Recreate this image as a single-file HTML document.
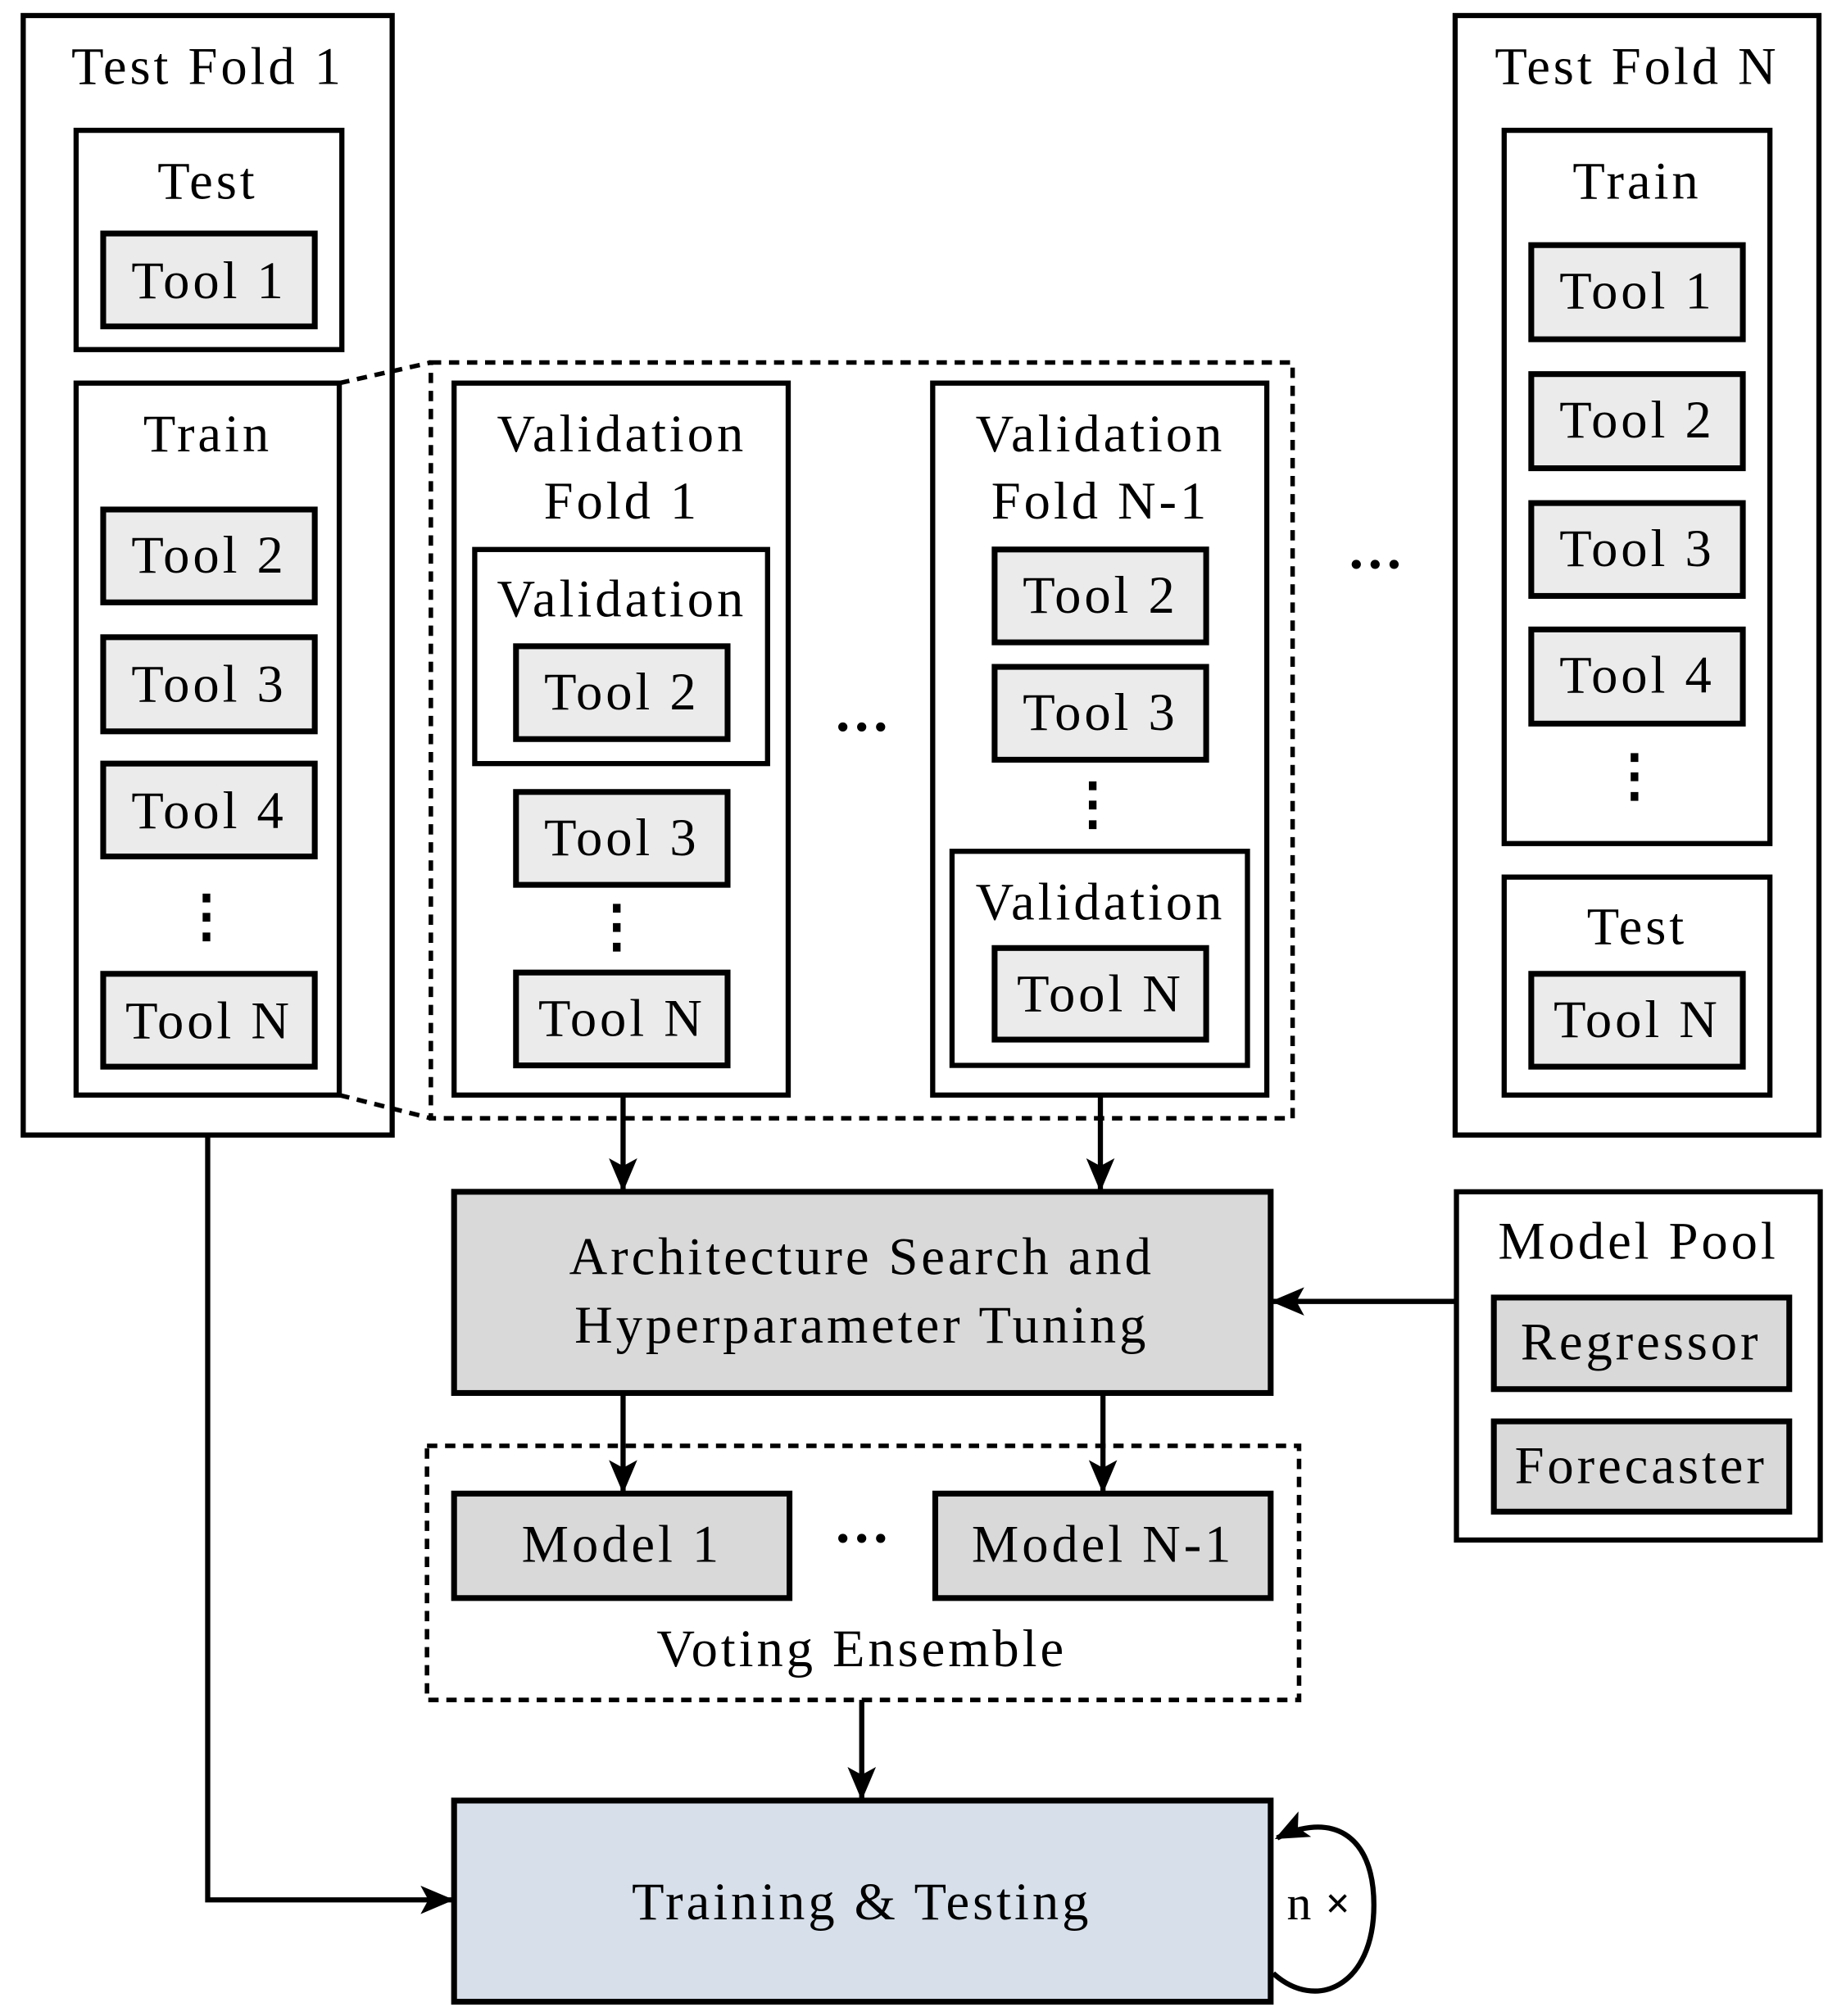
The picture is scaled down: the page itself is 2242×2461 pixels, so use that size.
<!DOCTYPE html>
<html><head><meta charset="utf-8">
<style>
html,body{margin:0;padding:0;background:#fff;}
svg{display:block;}
text{font-family:"Liberation Serif",serif;font-size:41px;letter-spacing:2.5px;fill:#000;text-anchor:middle;}
.b{fill:none;stroke:#000;stroke-width:4;}
.t{fill:#ebebeb;stroke:#000;stroke-width:4.5;}
.g{fill:#d9d9d9;stroke:#000;stroke-width:4.5;}
.d{fill:none;stroke:#000;stroke-width:3.5;stroke-dasharray:8,6;}
.l{fill:none;stroke:#000;stroke-width:4;}
.dots{font-size:44px;font-weight:bold;letter-spacing:0;}
</style></head><body>
<svg width="2242" height="2461" viewBox="0 0 1424 1563" xmlns="http://www.w3.org/2000/svg">
<defs>
<marker id="A" markerWidth="26" markerHeight="26" refX="24" refY="13" orient="auto" markerUnits="userSpaceOnUse"><path d="M0,2 L26,13 L0,24 L6,13 z" fill="#000"/></marker></defs>

<!-- Test Fold 1 -->
<rect class="b" x="18" y="12" width="286" height="868"/>
<text x="161" y="65">Test Fold 1</text>
<rect class="b" x="59" y="101" width="206" height="170"/>
<text x="161" y="154">Test</text>
<rect class="t" x="80" y="181" width="164" height="72"/><text x="162" y="231">Tool 1</text>
<rect class="b" x="59" y="297" width="204" height="552"/>
<text x="161" y="350">Train</text>
<rect class="t" x="80" y="395" width="164" height="72"/><text x="162" y="444">Tool 2</text>
<rect class="t" x="80" y="494" width="164" height="73"/><text x="162" y="544">Tool 3</text>
<rect class="t" x="80" y="592" width="164" height="72"/><text x="162" y="642">Tool 4</text>
<text class="dots" x="160" y="725">⋮</text>
<rect class="t" x="80" y="755" width="164" height="72"/><text x="162" y="805">Tool N</text>

<!-- dashed group -->
<rect class="d" x="334" y="281" width="668" height="586"/>
<line class="d" x1="263" y1="297" x2="334" y2="281"/>
<line class="d" x1="263" y1="849" x2="334" y2="867"/>

<rect class="b" x="352" y="297" width="259" height="552"/>
<text x="482" y="350">Validation</text><text x="482" y="402">Fold 1</text>
<rect class="b" x="368" y="426" width="227" height="166"/>
<text x="482" y="478">Validation</text>
<rect class="t" x="400" y="501" width="164" height="72"/><text x="482" y="550">Tool 2</text>
<rect class="t" x="400" y="614" width="164" height="72"/><text x="482" y="663">Tool 3</text>
<text class="dots" x="478" y="733">⋮</text>
<rect class="t" x="400" y="754" width="164" height="72"/><text x="482" y="803">Tool N</text>

<text class="dots" x="668" y="578">···</text>

<rect class="b" x="723" y="297" width="259" height="552"/>
<text x="853" y="350">Validation</text><text x="853" y="402">Fold N-1</text>
<rect class="t" x="771" y="426" width="164" height="72"/><text x="853" y="475">Tool 2</text>
<rect class="t" x="771" y="517" width="164" height="72"/><text x="853" y="566">Tool 3</text>
<text class="dots" x="847" y="638">⋮</text>
<rect class="b" x="738" y="660" width="229" height="166"/>
<text x="853" y="713">Validation</text>
<rect class="t" x="771" y="735" width="164" height="71"/><text x="853" y="784">Tool N</text>

<text class="dots" x="1066" y="452">···</text>

<!-- Test Fold N -->
<rect class="b" x="1128" y="12" width="282" height="868"/>
<text x="1269" y="65">Test Fold N</text>
<rect class="b" x="1166" y="101" width="206" height="553"/>
<text x="1269" y="154">Train</text>
<rect class="t" x="1187" y="190" width="164" height="73"/><text x="1269" y="239">Tool 1</text>
<rect class="t" x="1187" y="290" width="164" height="73"/><text x="1269" y="339">Tool 2</text>
<rect class="t" x="1187" y="390" width="164" height="72"/><text x="1269" y="439">Tool 3</text>
<rect class="t" x="1187" y="488" width="164" height="73"/><text x="1269" y="537">Tool 4</text>
<text class="dots" x="1267" y="616">⋮</text>
<rect class="b" x="1166" y="680" width="206" height="169"/>
<text x="1269" y="732">Test</text>
<rect class="t" x="1187" y="755" width="164" height="72"/><text x="1269" y="804">Tool N</text>

<line class="l" x1="483" y1="849" x2="483" y2="922" marker-end="url(#A)"/>
<line class="l" x1="853" y1="849" x2="853" y2="922" marker-end="url(#A)"/>

<rect class="g" x="352" y="924" width="633" height="156"/>
<text x="668" y="988">Architecture Search and</text>
<text x="668" y="1041">Hyperparameter Tuning</text>

<rect class="b" x="1129" y="924" width="282" height="270"/>
<text x="1270" y="976">Model Pool</text>
<rect class="g" x="1158" y="1006" width="229" height="71"/><text x="1272" y="1054">Regressor</text>
<rect class="g" x="1158" y="1102" width="229" height="70"/><text x="1272" y="1150">Forecaster</text>
<line class="l" x1="1129" y1="1009" x2="987" y2="1009" marker-end="url(#A)"/>

<line class="l" x1="483" y1="1080" x2="483" y2="1156" marker-end="url(#A)"/>
<line class="l" x1="855" y1="1080" x2="855" y2="1156" marker-end="url(#A)"/>

<rect class="d" x="331" y="1121" width="676" height="197"/>
<rect class="g" x="352" y="1158" width="260" height="81"/><text x="482" y="1211">Model 1</text>
<rect class="g" x="725" y="1158" width="260" height="81"/><text x="855" y="1211">Model N-1</text>
<text class="dots" x="668" y="1207">···</text>
<text x="668" y="1292">Voting Ensemble</text>

<line class="l" x1="668" y1="1318" x2="668" y2="1394" marker-end="url(#A)"/>

<rect x="352" y="1396" width="633" height="156" fill="#d6dfea" stroke="#000" stroke-width="4.5"/>
<text x="668" y="1488">Training &amp; Testing</text>

<polyline class="l" points="161,880 161,1473 350,1473" marker-end="url(#A)"/>

<path class="l" d="M987,1530 C1020,1560 1065,1540 1065,1477 C1065,1420 1030,1405 990,1425" marker-end="url(#A)"/>
<text x="1007" y="1488" style="font-size:38px;letter-spacing:0">n</text>
<text x="1037" y="1487" style="font-size:34px;font-weight:bold;letter-spacing:0">×</text>
</svg>
</body></html>
